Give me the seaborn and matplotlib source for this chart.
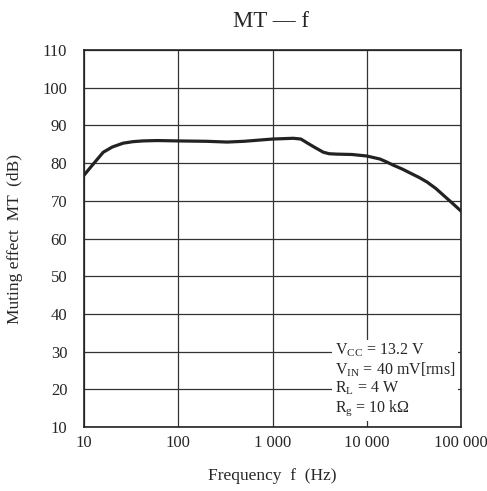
import seaborn as sns
import matplotlib.pyplot as plt
import pandas as pd

# values
freq = [10, 12, 16, 20, 26, 33, 42, 60, 100, 200, 330, 500, 1000, 1660, 2000, 2360, 2800,
        3460, 4000, 4800, 7000, 10000, 13800, 16000, 19000, 24000, 28800, 36000, 43600,
        54000, 65000, 80000, 100000]
mt = [76.8, 79.2, 82.9, 84.3, 85.3, 85.7, 85.9, 86.0, 85.9, 85.8, 85.6, 85.8, 86.4, 86.6,
      86.4, 85.3, 84.2, 82.9, 82.5, 82.4, 82.3, 81.9, 81.1, 80.4, 79.5, 78.4, 77.4, 76.2,
      75.0, 73.3, 71.5, 69.5, 67.3]
x_ticks = [10, 100, 1000, 10000, 100000]
x_labels = ["10", "100", "1 000", "10 000", "100 000"]
y_ticks = list(range(10, 111, 10))

df = pd.DataFrame({"f": freq, "MT": mt})

sns.set_style("white")
plt.rcParams["font.family"] = ["Liberation Serif", "DejaVu Serif"]
plt.rcParams["mathtext.fontset"] = "custom"
plt.rcParams["mathtext.rm"] = "Liberation Serif"

fig = plt.figure(figsize=(4.87, 4.91), dpi=100)
ax = fig.add_axes([0.1725, 0.1303, 0.7741, 0.7677])

sns.lineplot(data=df, x="f", y="MT", ax=ax, color="#222222", linewidth=2.3)
ax.set_xscale("log")
ax.set_xlim(10, 100000)
ax.set_ylim(10, 110)
ax.set_xticks(x_ticks)
ax.set_xticklabels(x_labels)
ax.set_yticks(y_ticks)
ax.minorticks_off()
ax.tick_params(labelsize=12, length=0)
ax.tick_params(axis="y", pad=12)
ax.tick_params(axis="x", pad=6)
ax.grid(True, color="#333333", linewidth=0.9)
for s in ax.spines.values():
    s.set_color("#222222")
    s.set_linewidth(1.2)
    s.set_zorder(5)

ax.set_xlabel("Frequency  f  (Hz)", fontsize=12.5, labelpad=12)
ax.set_ylabel("Muting effect  MT  (dB)", fontsize=12.5, labelpad=14)
fig.text(0.556, 0.957, "MT — f", ha="center", va="center", fontsize=16.5)

note = ("V$_{\\rm CC}$ = 13.2 V\n"
        "V$_{\\rm IN}$ = 40 mV[rms]\n"
        "R$_{\\rm L}$ = 4 W\n"
        "R$_{\\rm g}$ = 10 k$\\Omega$")
ax.text(0.665, 0.025, note, transform=ax.transAxes, fontsize=11.5, va="bottom", ha="left",
        linespacing=1.05, clip_on=True,
        bbox=dict(boxstyle="square,pad=0.2", facecolor="white", edgecolor="none"))

fig.savefig("out.png", dpi=100)
